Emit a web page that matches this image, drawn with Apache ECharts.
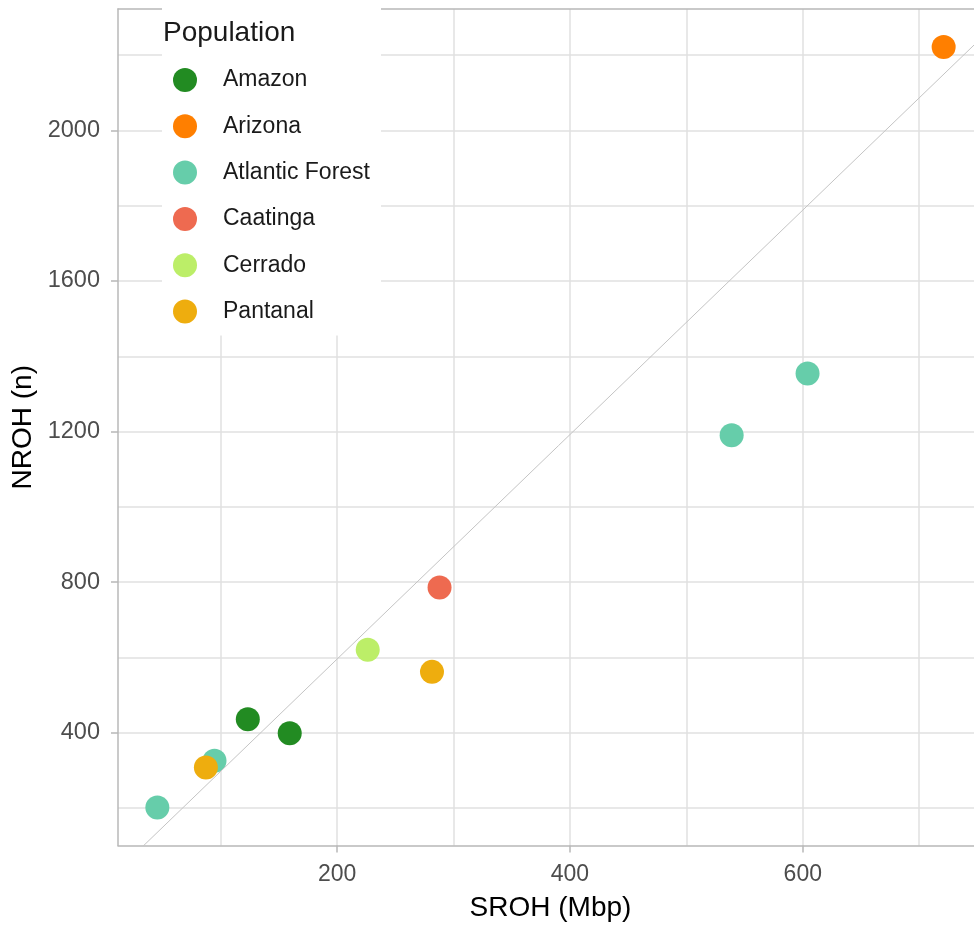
<!DOCTYPE html>
<html>
<head>
<meta charset="utf-8">
<title>NROH vs SROH by population</title>
<script src="https://cdn.jsdelivr.net/npm/echarts@6/dist/echarts.min.js"></script>
<style>
  html, body { margin: 0; padding: 0; background: #ffffff; }
  #chart { width: 974px; height: 929px; }
</style>
</head>
<body>
<div id="chart"></div>
<script>
// Populations and their point colours
const populations = ['Amazon', 'Arizona', 'Atlantic Forest', 'Caatinga', 'Cerrado', 'Pantanal'];
const popColors = ['#228B22', '#FF7F00', '#66CDAA', '#EE6A50', '#BCEE68', '#EEAD0E'];

// Total length of runs of homozygosity (Mbp) and number of ROH per individual
const amazonSroh = [123.3, 159.3];
const amazonNroh = [436, 399];
const arizonaSroh = [721];
const arizonaNroh = [2221];
const atlanticSroh = [45.6, 94.7, 538.9, 604.1];
const atlanticNroh = [202, 326, 1190, 1354];
const caatingaSroh = [288];
const caatingaNroh = [786];
const cerradoSroh = [226.3];
const cerradoNroh = [621];
const pantanalSroh = [87.3, 281.5];
const pantanalNroh = [308, 562];

const srohByPop = [amazonSroh, arizonaSroh, atlanticSroh, caatingaSroh, cerradoSroh, pantanalSroh];
const nrohByPop = [amazonNroh, arizonaNroh, atlanticNroh, caatingaNroh, cerradoNroh, pantanalNroh];

// Reference line NROH = slope * SROH + intercept
const lineSlope = 2.98;
const lineIntercept = 0;

// Axis ranges and tick positions
const xRange = [11.8, 754.8];
const yRange = [101, 2322];
const xMajorTicks = [200, 400, 600];
const xMinorTicks = [100, 300, 500, 700];
const yMajorTicks = [400, 800, 1200, 1600, 2000];
const yMinorTicks = [200, 600, 1000, 1400, 1800, 2200];

const FONT = '"Liberation Sans", Arial, sans-serif';
const gridColor = '#e0e0e0';
const borderColor = '#b8b8b8';
const plainNumber = v => String(Math.round(v));

const chart = echarts.init(document.getElementById('chart'), null, { renderer: 'canvas' });

const pointSeries = populations.map((name, i) => ({
  name: name,
  type: 'scatter',
  xAxisIndex: 0,
  yAxisIndex: 0,
  symbol: 'circle',
  symbolSize: 24,
  itemStyle: { color: popColors[i], opacity: 1 },
  emphasis: { disabled: true },
  data: srohByPop[i].map((x, k) => [x, nrohByPop[i][k]]),
  z: 2
}));

const lineSeries = {
  name: 'reference',
  type: 'line',
  xAxisIndex: 0,
  yAxisIndex: 0,
  showSymbol: false,
  symbol: 'none',
  silent: true,
  clip: true,
  lineStyle: { color: '#c4c4c4', width: 1 },
  data: xRange.map(x => [x, lineSlope * x + lineIntercept]),
  z: 3
};

chart.setOption({
  animation: false,
  backgroundColor: '#ffffff',
  textStyle: { fontFamily: FONT },
  grid: { left: 118, right: -9, top: 9, bottom: 83.5, containLabel: false, outerBoundsMode: 'none' },
  title: {
    text: 'Population',
    left: 163,
    top: 19,
    padding: 0,
    textStyle: { fontFamily: FONT, fontSize: 28, fontWeight: 'normal', color: '#1a1a1a' },
    z: 10
  },
  legend: {
    data: populations,
    orient: 'vertical',
    left: 162,
    top: 0,
    padding: [68, 11, 12, 11],
    itemWidth: 24,
    itemHeight: 24,
    itemGap: 22.3,
    icon: 'circle',
    backgroundColor: '#ffffff',
    selectedMode: false,
    textStyle: {
      fontFamily: FONT,
      fontSize: 23,
      color: '#1a1a1a',
      lineHeight: 24,
      padding: [0, 0, 0, 21]
    }
  },
  xAxis: [
    {
      type: 'value',
      position: 'bottom',
      min: xRange[0],
      max: xRange[1],
      name: 'SROH (Mbp)',
      nameLocation: 'middle',
      nameGap: 49,
      nameTextStyle: { fontFamily: FONT, fontSize: 28, color: '#000000' },
      axisLine: { show: true, onZero: false, lineStyle: { color: borderColor, width: 1.5 } },
      axisTick: { show: true, length: 7, customValues: xMajorTicks, lineStyle: { color: borderColor, width: 1.5 } },
      axisLabel: { show: true, customValues: xMajorTicks, margin: 18, fontFamily: FONT, fontSize: 23, color: '#4d4d4d', formatter: plainNumber },
      splitLine: { show: true, lineStyle: { color: gridColor, width: 1.5 } }
    },
    {
      type: 'value',
      position: 'top',
      min: xRange[0],
      max: xRange[1],
      axisLine: { show: true, onZero: false, lineStyle: { color: borderColor, width: 1.5 } },
      axisTick: { show: false, customValues: xMinorTicks },
      axisLabel: { show: false, customValues: xMinorTicks },
      splitLine: { show: true, lineStyle: { color: gridColor, width: 1.5 } }
    }
  ],
  yAxis: [
    {
      type: 'value',
      position: 'left',
      min: yRange[0],
      max: yRange[1],
      name: 'NROH (n)',
      nameLocation: 'middle',
      nameGap: 72,
      nameTextStyle: { fontFamily: FONT, fontSize: 28, color: '#000000' },
      axisLine: { show: true, onZero: false, lineStyle: { color: borderColor, width: 1.5 } },
      axisTick: { show: true, length: 7, customValues: yMajorTicks, lineStyle: { color: borderColor, width: 1.5 } },
      axisLabel: { show: true, customValues: yMajorTicks, margin: 18, fontFamily: FONT, fontSize: 23.5, color: '#4d4d4d', formatter: plainNumber },
      splitLine: { show: true, lineStyle: { color: gridColor, width: 1.5 } }
    },
    {
      type: 'value',
      position: 'right',
      min: yRange[0],
      max: yRange[1],
      axisLine: { show: false },
      axisTick: { show: false, customValues: yMinorTicks },
      axisLabel: { show: false, customValues: yMinorTicks },
      splitLine: { show: true, lineStyle: { color: gridColor, width: 1.5 } }
    }
  ],
  series: pointSeries.concat([lineSeries])
});
</script>
</body>
</html>
